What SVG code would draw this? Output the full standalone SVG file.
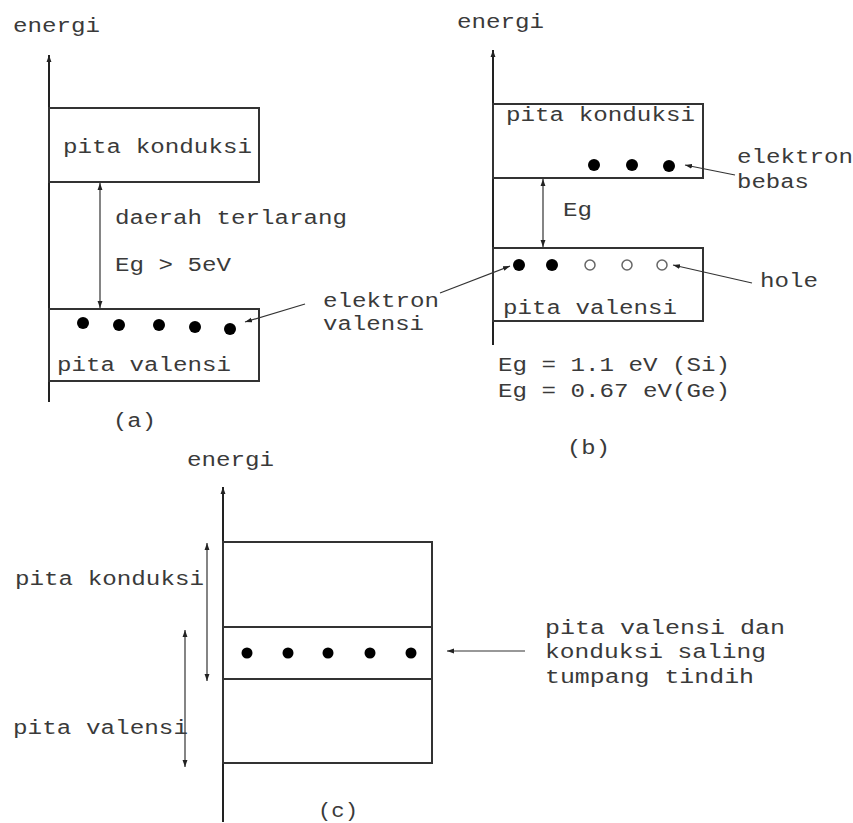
<svg xmlns="http://www.w3.org/2000/svg" width="853" height="823" viewBox="0 0 853 823">
<defs>
<style>
text{font-family:"Liberation Mono","Courier New",monospace;font-size:20px;fill:#3a3a3a;}
.ax{stroke:#222;stroke-width:2;fill:none;}
.box{stroke:#333;stroke-width:2;fill:none;}
.thin{stroke:#333;stroke-width:1.2;fill:none;}
.dot{fill:#000;}
.hole{fill:#fff;stroke:#666;stroke-width:1.5;}
</style>
<marker id="ah" viewBox="0 0 10 10" refX="10" refY="5" markerWidth="7" markerHeight="7" markerUnits="userSpaceOnUse" orient="auto-start-reverse">
<path d="M0,1.5 L10,5 L0,8.5 z" fill="#222"/>
</marker>
</defs>
<rect width="853" height="823" fill="#fff"/>

<g id="connectors">
<line class="ax" x1="49" y1="402" x2="49" y2="55" marker-end="url(#ah)"/>
<line class="ax" x1="493" y1="345" x2="493" y2="50" marker-end="url(#ah)"/>
<line class="ax" x1="223" y1="822" x2="223" y2="487" stroke-width="1.5" marker-end="url(#ah)"/>
<line class="thin" x1="100" y1="183" x2="100" y2="308" marker-start="url(#ah)" marker-end="url(#ah)"/>
<line class="thin" x1="543" y1="179" x2="543" y2="247" marker-start="url(#ah)" marker-end="url(#ah)"/>
<line class="thin" x1="305" y1="304" x2="245" y2="322" marker-end="url(#ah)"/>
<line class="thin" x1="440" y1="293" x2="510" y2="266" marker-end="url(#ah)"/>
<line class="thin" x1="735" y1="175" x2="685" y2="165" marker-end="url(#ah)"/>
<line class="thin" x1="752" y1="283" x2="673" y2="265" marker-end="url(#ah)"/>
<line class="thin" x1="207" y1="543" x2="207" y2="681" marker-start="url(#ah)" marker-end="url(#ah)"/>
<line class="thin" x1="185" y1="630" x2="185" y2="767" marker-start="url(#ah)" marker-end="url(#ah)"/>
<line class="thin" x1="525" y1="651" x2="447" y2="651" marker-end="url(#ah)"/>
</g>

<g id="panel-a">
<text x="13" y="32" textLength="87" lengthAdjust="spacingAndGlyphs">energi</text>
<g id="a-konduksi">
<rect class="box" x="49" y="108" width="210" height="74"/>
<text x="63" y="153" textLength="189" lengthAdjust="spacingAndGlyphs">pita konduksi</text>
</g>
<text x="115" y="224" textLength="232" lengthAdjust="spacingAndGlyphs">daerah terlarang</text>
<text x="115" y="271" textLength="116" lengthAdjust="spacingAndGlyphs">Eg &gt; 5eV</text>
<g id="a-valensi">
<rect class="box" x="49" y="309" width="210" height="72"/>
<circle class="dot" cx="83" cy="323" r="6"/>
<circle class="dot" cx="119" cy="325" r="6"/>
<circle class="dot" cx="159" cy="325" r="6"/>
<circle class="dot" cx="195" cy="327" r="6"/>
<circle class="dot" cx="230" cy="329" r="6"/>
<text x="57" y="371" textLength="174" lengthAdjust="spacingAndGlyphs">pita valensi</text>
</g>
<text x="113" y="427" textLength="43" lengthAdjust="spacingAndGlyphs">(a)</text>
</g>

<g id="label-elektron-valensi">
<text x="323" y="307" textLength="116" lengthAdjust="spacingAndGlyphs">elektron</text>
<text x="323" y="330" textLength="101" lengthAdjust="spacingAndGlyphs">valensi</text>
</g>

<g id="panel-b">
<text x="457" y="28" textLength="87" lengthAdjust="spacingAndGlyphs">energi</text>
<g id="b-konduksi">
<rect class="box" x="493" y="104" width="210" height="74"/>
<text x="506" y="121" textLength="189" lengthAdjust="spacingAndGlyphs">pita konduksi</text>
<circle class="dot" cx="594" cy="165" r="6"/>
<circle class="dot" cx="632" cy="165" r="6"/>
<circle class="dot" cx="669" cy="166" r="6"/>
</g>
<text x="737" y="163" textLength="116" lengthAdjust="spacingAndGlyphs">elektron</text>
<text x="737" y="188" textLength="72" lengthAdjust="spacingAndGlyphs">bebas</text>
<text x="563" y="216" textLength="29" lengthAdjust="spacingAndGlyphs">Eg</text>
<g id="b-valensi">
<rect class="box" x="493" y="248" width="210" height="73"/>
<circle class="dot" cx="519" cy="265" r="6"/>
<circle class="dot" cx="552" cy="265" r="6"/>
<circle class="hole" cx="590" cy="265" r="5"/>
<circle class="hole" cx="627" cy="265" r="5"/>
<circle class="hole" cx="662" cy="265" r="5"/>
<text x="503" y="314" textLength="174" lengthAdjust="spacingAndGlyphs">pita valensi</text>
</g>
<text x="760" y="287" textLength="58" lengthAdjust="spacingAndGlyphs">hole</text>
<text x="498" y="371" textLength="232" lengthAdjust="spacingAndGlyphs">Eg = 1.1 eV (Si)</text>
<text x="498" y="397" textLength="232" lengthAdjust="spacingAndGlyphs">Eg = 0.67 eV(Ge)</text>
<text x="567" y="454" textLength="43" lengthAdjust="spacingAndGlyphs">(b)</text>
</g>

<g id="panel-c">
<text x="187" y="466" textLength="87" lengthAdjust="spacingAndGlyphs">energi</text>
<g id="c-bands">
<rect class="box" x="223" y="542" width="209" height="221" stroke-width="1.5"/>
<line class="box" x1="223" y1="627" x2="432" y2="627" stroke-width="1.5"/>
<line class="box" x1="223" y1="679" x2="432" y2="679" stroke-width="1.5"/>
<circle class="dot" cx="247" cy="653" r="5.5"/>
<circle class="dot" cx="288" cy="653" r="5.5"/>
<circle class="dot" cx="328" cy="653" r="5.5"/>
<circle class="dot" cx="370" cy="653" r="5.5"/>
<circle class="dot" cx="411" cy="653" r="5.5"/>
</g>
<text x="15" y="585" textLength="189" lengthAdjust="spacingAndGlyphs">pita konduksi</text>
<text x="13" y="734" textLength="175" lengthAdjust="spacingAndGlyphs">pita valensi</text>
<text x="545" y="634" textLength="240" lengthAdjust="spacingAndGlyphs">pita valensi dan</text>
<text x="545" y="658" textLength="221" lengthAdjust="spacingAndGlyphs">konduksi saling</text>
<text x="545" y="683" textLength="209" lengthAdjust="spacingAndGlyphs">tumpang tindih</text>
<text x="318" y="817" textLength="40" lengthAdjust="spacingAndGlyphs">(c)</text>
</g>
</svg>
